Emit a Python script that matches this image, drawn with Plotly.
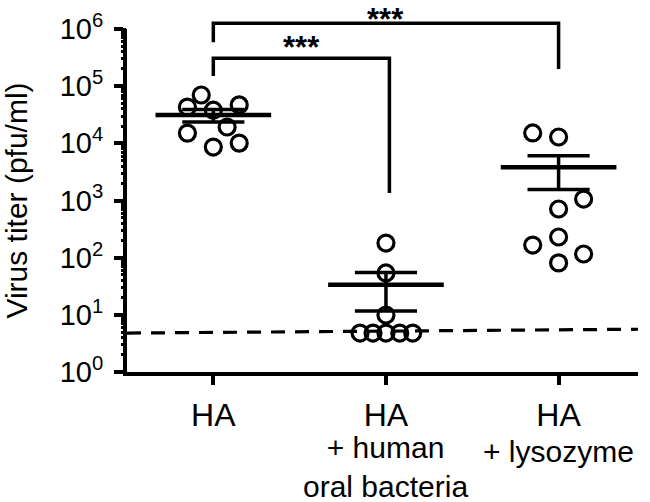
import numpy as np
import plotly.graph_objects as go

categories = ["HA", "HA<br>+ human<br>oral bacteria", "HA<br>+ lysozyme"]

# titers (pfu/ml)
ha_values = [70000, 43000, 38000, 47000, 19300, 15100, 10100, 8600]
ha_jitter = [-0.07, -0.15, 0.0, 0.15, 0.08, -0.15, 0.15, 0.0]

bact_values = [180, 54, 9.9, 4.8, 4.8, 4.8, 4.8, 4.8]
bact_jitter = [0.0, 0.0, 0.0, -0.15, -0.075, 0.0, 0.08, 0.155]

lyso_values = [15200, 12900, 1060, 710, 166, 230, 116, 81]
lyso_jitter = [-0.15, 0.0, 0.145, 0.0, -0.15, 0.0, 0.145, 0.0]

detection_limit = [4.8, 5.6]  # dashed line, left to right

groups = [(ha_values, ha_jitter), (bact_values, bact_jitter), (lyso_values, lyso_jitter)]

FONT = "Liberation Sans, Arial, sans-serif"
fig = go.Figure()

# points
for i, (vals, jit) in enumerate(groups):
    fig.add_trace(go.Scatter(
        x=[i + j for j in jit], y=vals, mode="markers",
        marker=dict(symbol="circle-open", size=16, color="black", line=dict(width=3.2, color="black")),
        showlegend=False, hoverinfo="skip"))

# mean +/- SEM (drawn on the overlaying axis that also carries the minor ticks)
for i, (vals, jit) in enumerate(groups):
    v = np.array(vals, dtype=float)
    m = v.mean()
    sem = v.std(ddof=1) / np.sqrt(len(v))
    c = i
    fig.add_trace(go.Scatter(x=[c - 0.335, c + 0.335], y=[m, m], mode="lines", yaxis="y2",
                             line=dict(color="black", width=4.5), showlegend=False, hoverinfo="skip"))
    fig.add_trace(go.Scatter(
        x=[c, c, None, c - 0.18, c + 0.18, None, c - 0.18, c + 0.18],
        y=[m - sem, m + sem, None, m + sem, m + sem, None, m - sem, m - sem], yaxis="y2",
        mode="lines", line=dict(color="black", width=3.5), showlegend=False, hoverinfo="skip"))

YMAX = 6.0
PLOT_H = 343.0
def paper(logv):
    return logv / YMAX

shapes = []
# detection limit
shapes.append(dict(type="line", xref="paper", yref="y", x0=0, x1=1,
                   y0=detection_limit[0], y1=detection_limit[1],
                   line=dict(color="black", width=3.2, dash="14px,10px")))
# brackets
def bracket(x0, x1, top, left_bot, right_bot):
    return dict(type="path", xref="x", yref="paper",
                path=f"M {x0},{paper(left_bot)} L {x0},{paper(top)} L {x1},{paper(top)} L {x1},{paper(right_bot)}",
                line=dict(color="black", width=3.5))
shapes.append(bracket(0.0, 2.0, 6.10, 5.77, 5.30))
shapes.append(bracket(0.0, 1.02, 5.49, 5.18, 3.13))

annotations = [
    dict(x=1.0, y=1.084, xref="x", yref="paper", text="<b>***</b>", showarrow=False,
         font=dict(family=FONT, size=31, color="black"), yanchor="top"),
    dict(x=0.51, y=paper(5.68), xref="x", yref="paper", text="<b>***</b>", showarrow=False,
         font=dict(family=FONT, size=31, color="black"), yanchor="middle"),
]

# category labels: first line as tick label, further lines as one text block below it
first_lines = [c.split("<br>")[0] for c in categories]
for i, c in enumerate(categories):
    extra = c.split("<br>")[1:]
    if not extra:
        continue
    if len(extra) == 1:
        center_px = 79
    else:
        center_px = 75 + (len(extra) - 1) * 19.5
    annotations.append(dict(x=i, y=-center_px / PLOT_H, xref="x", yref="paper",
                            text="<br>".join(extra), showarrow=False, yanchor="middle",
                            font=dict(family=FONT, size=30, color="black")))

tickvals = [10 ** k for k in range(7)]
ticktext = [f"10<sup>{k}</sup>" for k in range(7)]

fig.update_layout(
    width=650, height=502,
    margin=dict(l=127, r=12, t=29, b=130),
    plot_bgcolor="white", paper_bgcolor="white",
    font=dict(family=FONT, size=28, color="black"),
    shapes=shapes, annotations=annotations, showlegend=False,
    xaxis=dict(
        range=[-0.5, 2.46], tickvals=[0, 1, 2], ticktext=first_lines, automargin=False,
        showline=True, linewidth=4, linecolor="black", ticks="outside", ticklen=9, tickwidth=4,
        tickcolor="black", showgrid=False, zeroline=False, tickfont=dict(size=32),
        ticklabelstandoff=3,
    ),
    yaxis=dict(
        type="log", range=[0, YMAX], tickvals=tickvals, ticktext=ticktext, automargin=False,
        showline=True, linewidth=4, linecolor="black", ticks="outside", ticklen=9, tickwidth=4,
        tickcolor="black", showgrid=False, zeroline=False, tickfont=dict(size=29),
        ticklabelstandoff=5,
        title=dict(text="Virus titer (pfu/ml)", font=dict(size=30), standoff=24),
    ),
    yaxis2=dict(
        type="log", range=[0, YMAX], overlaying="y", anchor="x", side="left",
        dtick="D1", showticklabels=False, ticks="outside", ticklen=5, tickwidth=3,
        tickcolor="black", showgrid=False, zeroline=False, showline=False, automargin=False,
    ),
)

fig.write_html("out.html", post_script="document.body.style.margin='0';",
               config={"displayModeBar": False})
